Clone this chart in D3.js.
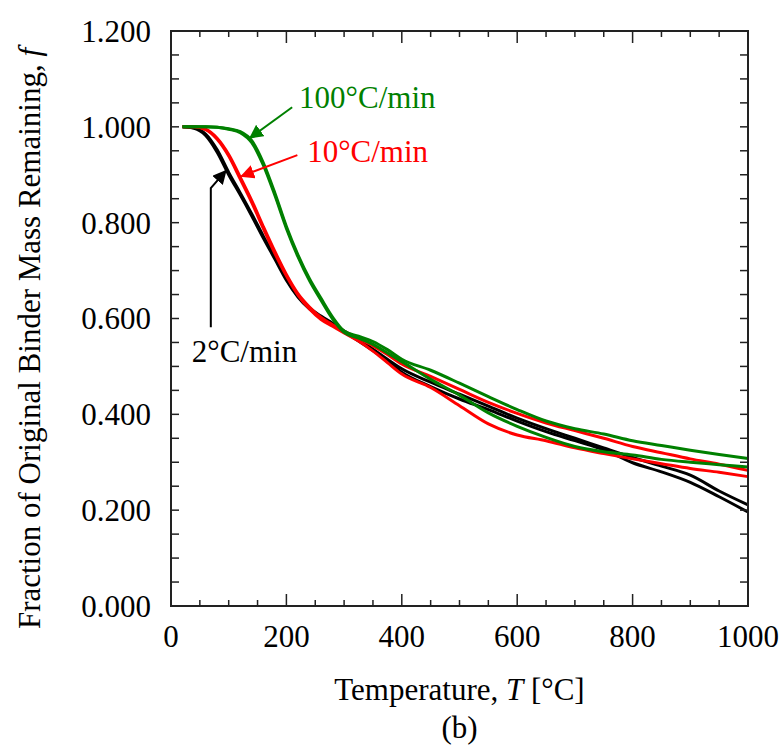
<!DOCTYPE html>
<html><head><meta charset="utf-8">
<script src="https://cdn.jsdelivr.net/npm/d3@7"></script>
<style>
html,body{margin:0;padding:0;background:#fff;}
svg text{font-family:"Liberation Serif","Times New Roman",Times,serif;}
</style></head>
<body><svg id="chart" width="783" height="747" font-family="Liberation Serif, Times New Roman, serif"></svg>
<script>
// ---- data ----
const temps = [20,40,60,80,100,120,140,160,180,200,220,240,260,280,300,325,350,375,400,450,500,550,600,650,700,750,800,850,900,950,1000];
const black2A = [1.000,0.998,0.985,0.952,0.905,0.862,0.818,0.772,0.728,0.683,0.647,0.622,0.605,0.590,0.574,0.556,0.536,0.515,0.495,0.467,0.442,0.417,0.392,0.370,0.350,0.330,0.310,0.292,0.273,0.240,0.211];
const black2B = [1.000,0.997,0.982,0.947,0.900,0.858,0.814,0.768,0.724,0.680,0.645,0.620,0.603,0.588,0.572,0.553,0.533,0.512,0.488,0.458,0.432,0.410,0.386,0.364,0.345,0.326,0.299,0.280,0.258,0.228,0.196];
const red10A = [1.000,1.000,0.995,0.976,0.942,0.895,0.846,0.792,0.740,0.692,0.652,0.624,0.602,0.587,0.573,0.558,0.543,0.525,0.505,0.479,0.452,0.425,0.402,0.382,0.366,0.350,0.333,0.320,0.307,0.296,0.283];
const red10B = [1.000,1.000,0.994,0.974,0.939,0.891,0.842,0.788,0.736,0.689,0.649,0.620,0.598,0.584,0.570,0.553,0.532,0.508,0.484,0.456,0.418,0.380,0.357,0.345,0.330,0.318,0.307,0.297,0.287,0.279,0.270];
const green100A = [1.000,1.000,1.000,0.999,0.996,0.990,0.971,0.925,0.862,0.792,0.733,0.683,0.642,0.603,0.574,0.563,0.552,0.535,0.515,0.492,0.465,0.437,0.410,0.386,0.370,0.359,0.345,0.335,0.325,0.316,0.308];
const green100B = [1.000,1.000,1.000,0.999,0.995,0.988,0.967,0.920,0.857,0.788,0.729,0.679,0.638,0.599,0.571,0.559,0.546,0.528,0.510,0.473,0.440,0.403,0.375,0.352,0.333,0.322,0.315,0.306,0.300,0.295,0.290];
const seriesNames = ["2°C/min A","2°C/min B","10°C/min A","10°C/min B","100°C/min A","100°C/min B"];
const seriesValues = [black2A, black2B, red10A, red10B, green100A, green100B];
const seriesColors = ["#000000","#000000","#ff0000","#ff0000","#008000","#008000"];
const xTickLabels = [0,200,400,600,800,1000];
const yTickLabels = [0,0.2,0.4,0.6,0.8,1.0,1.2];

// ---- layout ----
const svg = d3.select("#chart");
const m = {left:171, right:748, top:31, bottom:606};
const x = d3.scaleLinear().domain([0,1000]).range([m.left,m.right]);
const y = d3.scaleLinear().domain([0,1.2]).range([m.bottom,m.top]);
const fontSize = 31;

// curves
const line = d3.line().x(d=>x(d[0])).y(d=>y(d[1])).curve(d3.curveMonotoneX);
seriesValues.forEach((vals,i)=>{
  svg.append("path")
    .datum(temps.map((t,j)=>[t,vals[j]]))
    .attr("fill","none")
    .attr("stroke",seriesColors[i])
    .attr("stroke-width",3)
    .attr("stroke-linejoin","round")
    .attr("d",line);
});

// frame
svg.append("rect").attr("x",m.left).attr("y",m.top)
  .attr("width",m.right-m.left).attr("height",m.bottom-m.top)
  .attr("fill","none").attr("stroke","#222").attr("stroke-width",2);

// ticks
const minorX = d3.range(0,1001,50);
const majorXSet = new Set(xTickLabels);
const tg = svg.append("g").attr("stroke","#222").attr("stroke-width",1.5);
minorX.forEach(t=>{
  if(t===0||t===1000) return;
  const len = majorXSet.has(t)?12:6;
  tg.append("line").attr("x1",x(t)).attr("x2",x(t)).attr("y1",y(0)).attr("y2",y(0)-len);
  tg.append("line").attr("x1",x(t)).attr("x2",x(t)).attr("y1",y(1.2)).attr("y2",y(1.2)+len);
});
d3.range(1,24).forEach(k=>{
  const v = k*0.05;
  tg.append("line").attr("x1",x(0)).attr("x2",x(0)+8).attr("y1",y(v)).attr("y2",y(v));
  tg.append("line").attr("x1",x(1000)).attr("x2",x(1000)-8).attr("y1",y(v)).attr("y2",y(v));
});

// tick labels
svg.append("g").selectAll("text").data(xTickLabels).join("text")
  .attr("x",d=>x(d)).attr("y",y(0)+41)
  .attr("text-anchor","middle").attr("font-size",fontSize).attr("fill","#000")
  .text(d=>d);
svg.append("g").selectAll("text").data(yTickLabels).join("text")
  .attr("x",x(0)-20).attr("y",d=>y(d)).attr("dy","0.35em")
  .attr("text-anchor","end").attr("font-size",fontSize).attr("fill","#000")
  .text(d=>d3.format(".3f")(d));

// axis titles
const xt = svg.append("text").attr("x",x(500)).attr("y",700)
  .attr("text-anchor","middle").attr("font-size",fontSize).attr("fill","#000");
xt.append("tspan").text("Temperature, ");
xt.append("tspan").attr("font-style","italic").text("T");
xt.append("tspan").text(" [°C]");
svg.append("text").attr("x",x(500)).attr("y",738)
  .attr("text-anchor","middle").attr("font-size",fontSize).attr("fill","#000").text("(b)");
const yt = svg.append("text")
  .attr("transform",`translate(40,${(m.top+m.bottom)/2+20}) rotate(-90)`)
  .attr("text-anchor","middle").attr("font-size",fontSize).attr("fill","#000");
yt.append("tspan").text("Fraction of Original Binder Mass Remaining, ");
yt.append("tspan").attr("font-style","italic").text("f");

// annotations (positions in data units)
const defs = svg.append("defs");
["#008000","#ff0000","#000000"].forEach((c,i)=>{
  defs.append("marker").attr("id","ah"+i).attr("viewBox","0 0 10 10")
    .attr("refX",9).attr("refY",5).attr("markerWidth",14).attr("markerHeight",14)
    .attr("markerUnits","userSpaceOnUse").attr("orient","auto")
    .append("path").attr("d","M0,0 L10,5 L0,10 Z").attr("fill",c);
});
const annotations = [
  {label:"100°C/min", color:"#008000", text:[222,1.039], path:[[210,1.041],[137,0.977]], m:0},
  {label:"10°C/min", color:"#ff0000", text:[236,0.927], path:[[219,0.941],[122,0.897]], m:1},
  {label:"2°C/min", color:"#000000", text:[36,0.509], path:[[69,0.582],[69,0.872],[95,0.908]], m:2}
];
const aline = d3.line().x(d=>x(d[0])).y(d=>y(d[1]));
annotations.forEach(a=>{
  svg.append("path")
    .attr("d",aline(a.path))
    .attr("fill","none").attr("stroke",a.color).attr("stroke-width",2)
    .attr("marker-end",`url(#ah${a.m})`);
  svg.append("text").attr("x",x(a.text[0])).attr("y",y(a.text[1]))
    .attr("font-size",fontSize).attr("fill",a.color).text(a.label);
});
</script></body></html>
